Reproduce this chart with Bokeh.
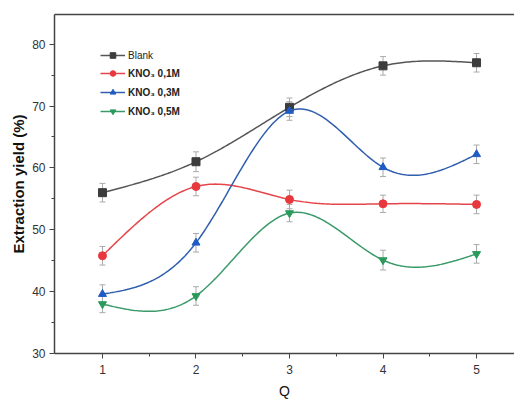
import numpy as np
from bokeh.plotting import figure
from bokeh.models import (ColumnDataSource, Whisker, Legend, LegendItem, Range1d, FixedTicker,
                          TeeHead, LinearAxis)
from bokeh.embed import file_html
from bokeh.resources import INLINE

q = [1, 2, 3, 4, 5]
blank = [56.0, 61.0, 69.8, 76.5, 77.0]
kno3_01 = [45.8, 57.0, 54.9, 54.2, 54.1]
kno3_03 = [39.6, 47.9, 69.2, 60.1, 62.2]
kno3_05 = [38.0, 39.3, 52.7, 45.1, 46.1]
err_blank = [1.5, 1.6, 1.5, 1.5, 1.5]
err_01 = [1.5, 1.5, 1.5, 1.4, 1.5]
err_03 = [1.5, 1.5, 1.5, 1.5, 1.5]
err_05 = [1.4, 1.5, 1.4, 1.6, 1.5]

labels = ["Blank", "KNO\u2083 0,1M", "KNO\u2083 0,3M", "KNO\u2083 0,5M"]
colors = ["#3c3c3c", "#e8383d", "#1f5bc4", "#2a9a5a"]
line_colors = ["#555555", "#e5454a", "#2f5fae", "#3a9a6a"]
markers = ["square", "circle", "triangle", "inverted_triangle"]


def natural_spline(x, y, n=200):
    x = np.asarray(x, float)
    y = np.asarray(y, float)
    k = len(x)
    h = np.diff(x)
    A = np.zeros((k, k))
    b = np.zeros(k)
    A[0, 0] = 1
    A[-1, -1] = 1
    for i in range(1, k - 1):
        A[i, i - 1] = h[i - 1]
        A[i, i] = 2 * (h[i - 1] + h[i])
        A[i, i + 1] = h[i]
        b[i] = 6 * ((y[i + 1] - y[i]) / h[i] - (y[i] - y[i - 1]) / h[i - 1])
    M = np.linalg.solve(A, b)
    xs = np.linspace(x[0], x[-1], n)
    ys = np.empty_like(xs)
    for j, xv in enumerate(xs):
        i = min(np.searchsorted(x, xv, side="right") - 1, k - 2)
        t1 = x[i + 1] - xv
        t0 = xv - x[i]
        ys[j] = (M[i] * t1 ** 3 / (6 * h[i]) + M[i + 1] * t0 ** 3 / (6 * h[i])
                 + (y[i] / h[i] - M[i] * h[i] / 6) * t1
                 + (y[i + 1] / h[i] - M[i + 1] * h[i] / 6) * t0)
    return xs, ys


p = figure(width=514, height=401, output_backend="svg", toolbar_location=None,
           x_range=Range1d(0.487, 5.406), y_range=Range1d(30, 84.8),
           min_border_left=54, min_border_right=0, min_border_top=14, min_border_bottom=43)
p.grid.visible = False
p.outline_line_color = None
p.background_fill_color = "white"
p.border_fill_color = "white"

xax = p.below[0]
yax = p.left[0]

top_axis = LinearAxis(ticker=FixedTicker(ticks=[]), axis_line_color="#444444", axis_line_width=1.5,
                      major_tick_line_color=None, minor_tick_line_color=None,
                      major_label_text_font_size="0px")
p.add_layout(top_axis, "above")

series = [blank, kno3_01, kno3_03, kno3_05]
errs = [err_blank, err_01, err_03, err_05]
renderers = []
for ys, es, c, lc, m in zip(series, errs, colors, line_colors, markers):
    xs_s, ys_s = natural_spline(q, ys)
    p.line(xs_s, ys_s, line_color=lc, line_width=1.5)
    src = ColumnDataSource(dict(x=q, y=ys, lo=[a - e for a, e in zip(ys, es)],
                                hi=[a + e for a, e in zip(ys, es)]))
    w = Whisker(base="x", lower="lo", upper="hi", source=src, line_color="#aaaaaa", line_width=1,
                upper_head=TeeHead(size=6, line_color="#aaaaaa", line_width=1),
                lower_head=TeeHead(size=6, line_color="#aaaaaa", line_width=1))
    p.add_layout(w)
    r = p.scatter("x", "y", source=src, marker=m, size=8, fill_color=c, line_color=c)
    renderers.append((lc, c, m, r))

leg_items = []
for (lc, c, m, r), lab, ys in zip(renderers, labels, series):
    lr = p.line(q, ys, line_color=lc, line_width=1.5, visible=False)
    leg_items.append(LegendItem(label=lab, renderers=[lr, r]))

common = dict(padding=0, margin=0, border_line_color=None, background_fill_alpha=0,
              glyph_width=25, glyph_height=14, label_height=14, spacing=5,
              label_standoff=3, label_text_font="Liberation Sans", label_text_font_size="10px",
              label_text_color="#222222")
leg1 = Legend(items=[leg_items[0]], location=(46, 291), **common)
leg2 = Legend(items=leg_items[1:], location=(46, 235), label_text_font_style="bold", **common)
p.add_layout(leg1, "center")
p.add_layout(leg2, "center")

for ax in (xax, yax):
    ax.axis_line_color = "#444444"
    ax.axis_line_width = 1.5
    ax.major_tick_line_color = "#444444"
    ax.minor_tick_line_color = "#444444"
    ax.major_tick_out = 5
    ax.major_tick_in = 0
    ax.minor_tick_out = 3
    ax.minor_tick_in = 0
    ax.major_label_text_font = "Liberation Sans"
    ax.major_label_text_font_size = "12px"
    ax.major_label_text_color = "#333333"
    ax.axis_label_text_font = "Liberation Sans"
    ax.axis_label_text_color = "#111111"

xax.ticker = FixedTicker(ticks=[1, 2, 3, 4, 5], minor_ticks=[1.5, 2.5, 3.5, 4.5])
yax.ticker = FixedTicker(ticks=[30, 40, 50, 60, 70, 80], minor_ticks=[35, 45, 55, 65, 75])
xax.axis_label = "Q"
xax.axis_label_text_font_size = "14px"
xax.axis_label_text_font_style = "normal"
xax.axis_label_standoff = 6
yax.axis_label = "Extraction yield (%)"
yax.axis_label_text_font_size = "15px"
yax.axis_label_text_font_style = "bold"
yax.axis_label_standoff = 2
xax.major_label_standoff = 6
yax.major_label_standoff = 4

open("out.html", "w").write(file_html(p, INLINE))
